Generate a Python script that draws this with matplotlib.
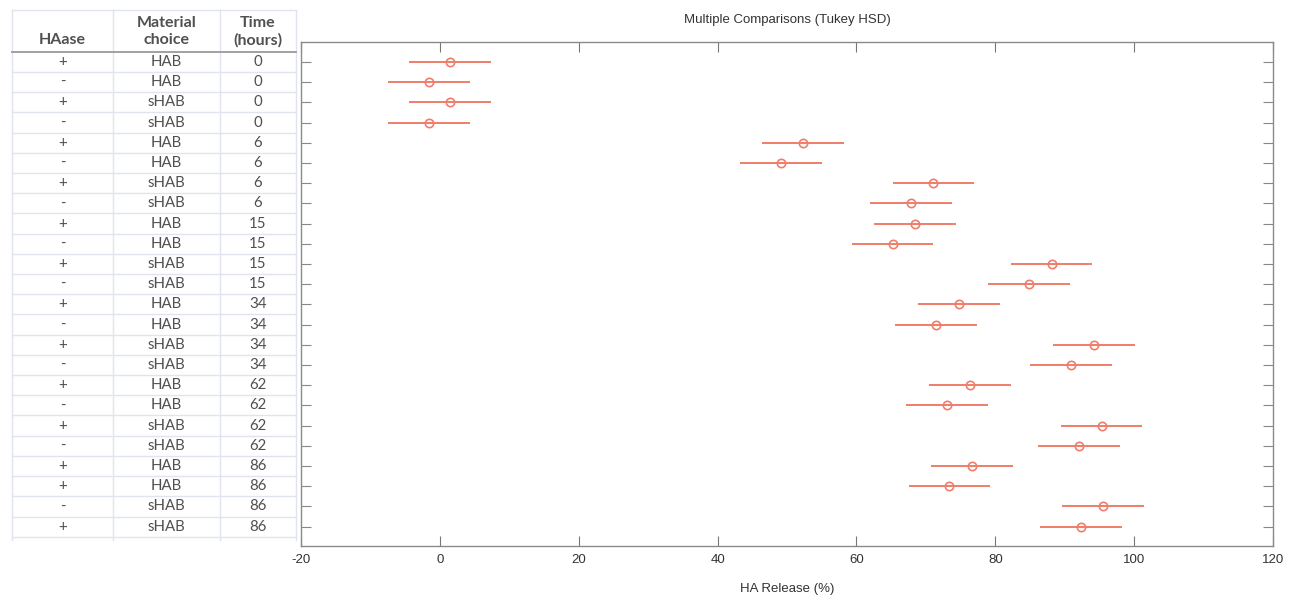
import matplotlib.pyplot as plt
import numpy as np

# table columns
haase = ["+", "-", "+", "-", "+", "-", "+", "-", "+", "-", "+", "-",
         "+", "-", "+", "-", "+", "-", "+", "-", "+", "+", "-", "+"]
material = ["HAB", "HAB", "sHAB", "sHAB"] * 6
time_h = ["0"] * 4 + ["6"] * 4 + ["15"] * 4 + ["34"] * 4 + ["62"] * 4 + ["86"] * 4

# group means (HA release %) and half-width of the comparison interval
means = [1.5, -1.6, 1.5, -1.6, 52.3, 49.1, 71.1, 67.9, 68.4, 65.2, 88.1, 84.8,
         74.8, 71.5, 94.2, 90.9, 76.3, 73.1, 95.3, 92.1, 76.6, 73.4, 95.5, 92.3]
half_width = 5.9

xticks = [-20, 0, 20, 40, 60, 80, 100, 120]

W, H = 1289, 595
col = "#f07d6a"
grid_col = "#dfe4ee"
txt_col = "#505050"

plt.rcParams['font.family'] = ['Liberation Sans', 'DejaVu Sans']

fig = plt.figure(figsize=(W / 100, H / 100), dpi=100)

def px_box(x0, y0, x1, y1):
    return [x0 / W, 1 - y1 / H, (x1 - x0) / W, (y1 - y0) / H]

n = len(means)
row_px = 20.2
row0_px = 62.0

def row_at(py):
    return 1 + (py - row0_px) / row_px

# main plot
ax = fig.add_axes(px_box(301, 42, 1273, 546))
y = np.arange(1, n + 1)
ax.errorbar(means, y, xerr=half_width, fmt="none", ecolor=col, elinewidth=1.4, capsize=0)
ax.plot(means, y, "o", mfc="none", mec=col, ms=6, mew=1.2, ls="none")
ax.set_xlim(-20, 120)
ax.set_ylim(row_at(546), row_at(42))
ax.set_xticks(xticks)
ax.set_xticklabels([str(t) for t in xticks], fontsize=9.5, color="#333333")
ax.set_yticks(y)
ax.set_yticklabels([])
ax.tick_params(axis="x", direction="in", length=7, top=True, bottom=True, color="#777777", pad=6)
ax.tick_params(axis="y", direction="in", length=7, left=True, right=True, color="#888888")
for s in ax.spines.values():
    s.set_color("#8a8a8a")
    s.set_linewidth(1.0)
ax.set_title("Multiple Comparisons (Tukey HSD)", fontsize=9.5, color="#333333", pad=14)
ax.set_xlabel("HA Release (%)", fontsize=9.5, color="#333333", labelpad=12)

# table on the left
tab = fig.add_axes(px_box(12, 10, 296, 540))
tab.set_xlim(12, 296)
tab.set_ylim(row_at(540), row_at(10))
tab.axis("off")

cols_x = [12, 113, 220, 296]
centers = [(cols_x[i] + cols_x[i + 1]) / 2 for i in range(3)]
top = row_at(10)
bottom = row_at(540)

for xv in cols_x:
    tab.plot([xv, xv], [top, bottom], color=grid_col, lw=1.0, clip_on=False)
tab.plot([12, 296], [top, top], color=grid_col, lw=1.0, clip_on=False)
for k in range(1, n + 1):
    tab.plot([12, 296], [k + 0.5, k + 0.5], color=grid_col, lw=1.0, clip_on=False)
tab.plot([12, 296], [0.5, 0.5], color="#9a9a9a", lw=1.3, clip_on=False)

hfont = dict(fontsize=11.5, fontweight="bold", color=txt_col, family=["Lato", "DejaVu Sans"])
tab.text(centers[0], 0.28, "HAase", ha="center", va="bottom", **hfont)
tab.text(centers[1], 0.28, "Material\nchoice", ha="center", va="bottom", linespacing=1.3, **hfont)
tab.text(centers[2], 0.28, "Time\n(hours)", ha="center", va="bottom", linespacing=1.3, **hfont)

cfont = dict(fontsize=10.8, color=txt_col, family=["Lato", "DejaVu Sans"])
for k in range(n):
    tab.text(centers[0], k + 1, haase[k], ha="center", va="center", **cfont)
    tab.text(centers[1], k + 1, material[k], ha="center", va="center", **cfont)
    tab.text(centers[2], k + 1, time_h[k], ha="center", va="center", **cfont)

fig.savefig("out.png", dpi=100)
